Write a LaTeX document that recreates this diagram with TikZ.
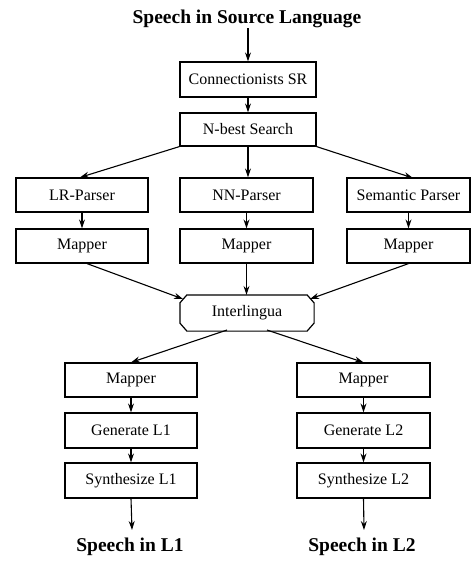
\documentclass[tikz,border=0pt]{standalone}
\usepackage{fontspec}
\setmainfont{Liberation Serif}
\usetikzlibrary{arrows.meta}
\begin{document}
\begin{tikzpicture}[x=1pt,y=-1pt,
  box/.style={draw,line width=1.2pt,inner sep=0pt,font=\fontsize{16}{18}\selectfont},
  conn/.style={line width=1.1pt,-{Stealth[length=9pt,width=6pt]}},
  lab/.style={inner sep=0pt,font=\fontsize{19.5}{22}\selectfont\bfseries}]
\useasboundingbox (0,0) rectangle (471,561);
\node[lab] (src) at (247,19) {Speech in Source Language};
\node[box,minimum width=136pt,minimum height=35pt] (csr) at (248,79.5) {Connectionists SR};
\node[box,minimum width=136pt,minimum height=33pt] (nb) at (248,129.5) {N-best Search};
\node[box,minimum width=132pt,minimum height=34pt] (lr) at (82,195) {LR-Parser};
\node[box,minimum width=133pt,minimum height=34pt] (nn) at (246.5,195) {NN-Parser};
\node[box,minimum width=123pt,minimum height=34pt] (sp) at (408.5,195) {Semantic Parser};
\node[box,minimum width=132pt,minimum height=34pt] (m1) at (82,246) {Mapper};
\node[box,minimum width=133pt,minimum height=34pt] (m2) at (246.5,246) {Mapper};
\node[box,minimum width=123pt,minimum height=34pt] (m3) at (408.5,246) {Mapper};
\node[box,draw=none,minimum width=133pt,minimum height=35pt] (il) at (247,313) {Interlingua};
\draw[line width=1.2pt] ([xshift=7pt]il.north west) -- ([xshift=-7pt]il.north east)
  -- ([yshift=-8pt]il.north east) -- ([yshift=8pt]il.south east)
  -- ([xshift=-7pt]il.south east) -- ([xshift=7pt]il.south west)
  -- ([yshift=8pt]il.south west) -- ([yshift=-8pt]il.north west) -- cycle;
\node[box,minimum width=132pt,minimum height=34pt] (lm) at (131,380) {Mapper};
\node[box,minimum width=132pt,minimum height=35pt] (lg) at (131,430.5) {Generate L1};
\node[box,minimum width=132pt,minimum height=35pt] (ls) at (131,480.5) {Synthesize L1};
\node[box,minimum width=133pt,minimum height=34pt] (rm) at (363.5,380) {Mapper};
\node[box,minimum width=133pt,minimum height=35pt] (rg) at (363.5,430.5) {Generate L2};
\node[box,minimum width=133pt,minimum height=35pt] (rs) at (363.5,480.5) {Synthesize L2};
\node[lab] (o1) at (130,547) {Speech in L1};
\node[lab] (o2) at (362,547) {Speech in L2};
\coordinate (a1) at (132,530);
\coordinate (a2) at (364,530);
\draw[conn] (src.south -| csr.north) -- (csr.north);
\draw[conn] (csr) -- (nb);
\draw[conn] (nb.south west) -- (lr.north -| 80,0);
\draw[conn] (nb) -- (nb |- nn.north);
\draw[conn] (nb.south east) -- (413,178);
\draw[conn] (lr) -- (m1);
\draw[conn] (nn) -- (m2);
\draw[conn] (sp) -- (m3);
\draw[conn] (m1.south) ++(5,0) -- (183,299);
\draw[conn] (m2) -- (m2 |- il.north);
\draw[conn] (m3.south) ++(0,0) -- (310,299);
\draw[conn] (227,330) -- (lm.north);
\draw[conn] (267,330) -- (rm.north);
\draw[conn] (lm) -- (lg);
\draw[conn] (lg) -- (ls);
\draw[conn] (rm) -- (rg);
\draw[conn] (rg) -- (rs);
\draw[conn] (ls.south) -- (a1);
\draw[conn] (rs.south) -- (a2);
\end{tikzpicture}
\end{document}
